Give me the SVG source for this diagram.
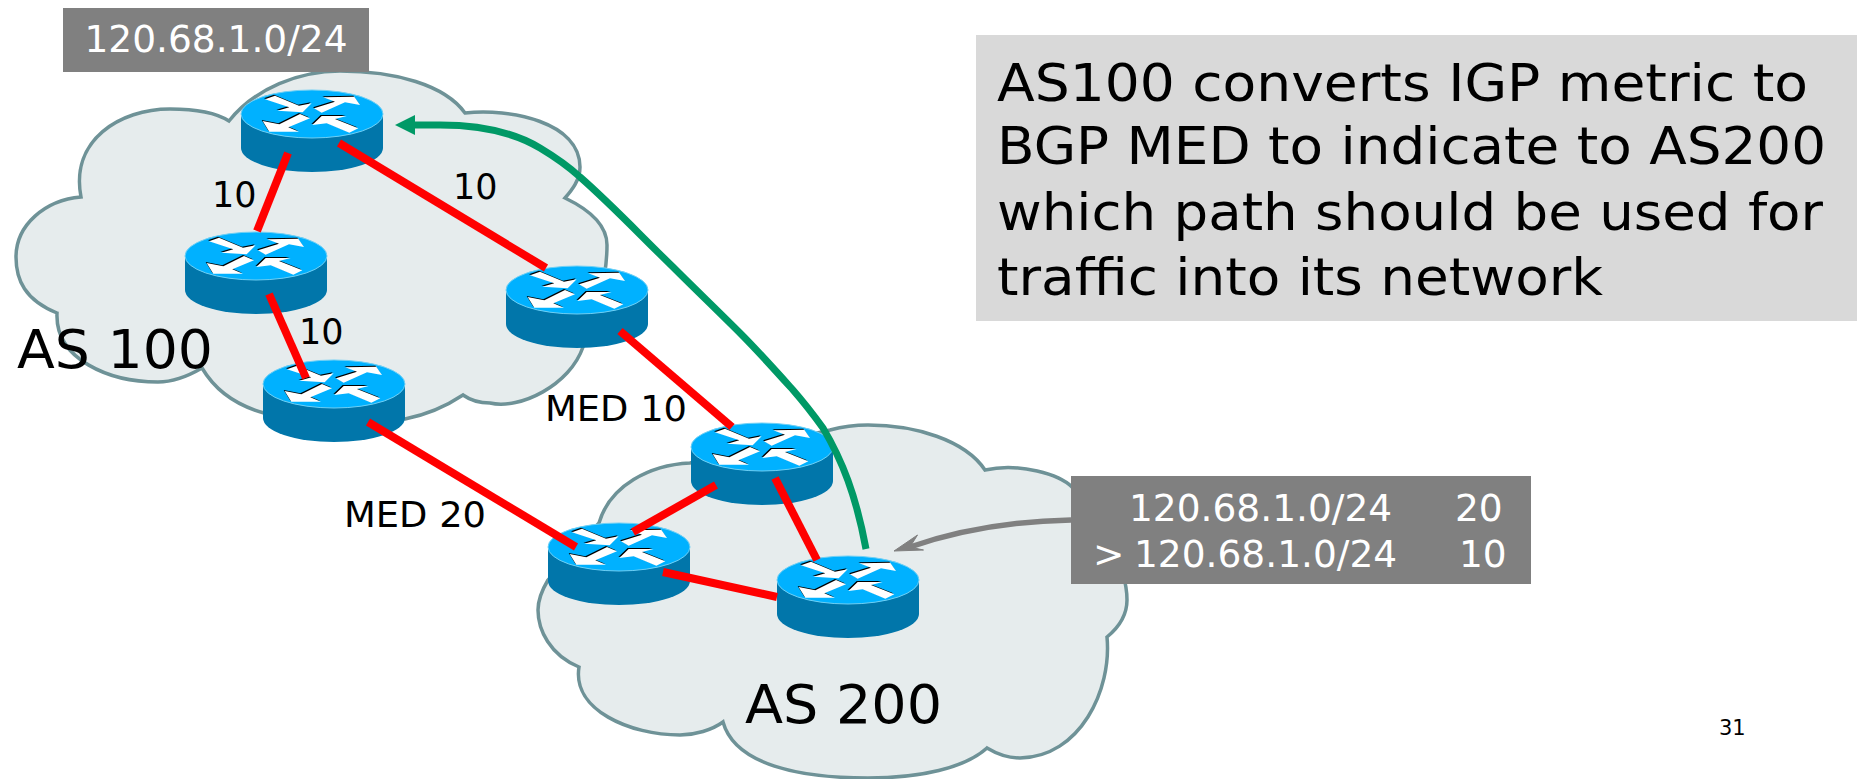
<svg xmlns="http://www.w3.org/2000/svg" width="1865" height="779" viewBox="0 0 1865 779">
<style>
.cloud{fill:#e6eced;stroke:#6e9297;stroke-width:3.5;stroke-linejoin:miter}
.link{stroke:#ff0000;stroke-width:8;fill:none}
text{font-family:"DejaVu Sans","Liberation Sans",sans-serif;fill:#000}
.w{fill:#fff}
.box{fill:#808080}
.lbl{font-size:35px}
.med{font-size:36px}
.as{font-size:54px}
.rt{font-size:37.5px}
.tb{font-size:37.5px}
.big{font-size:52px}
</style>
<defs>
<g id="router">
<path d="M0 24V58A71 24 0 0 0 142 58V24Z" fill="#0176aa"/>
<ellipse cx="71" cy="24" rx="71" ry="24" fill="#00b1ff" stroke="#6fd0f5" stroke-width="1"/>
<g transform="translate(-21,-10) scale(.3333)">
<g fill="#000" transform="translate(-3,-3)">
<polygon points="135,58 165,47 237,77 275,70 248,97 172,92 208,82"/>
<polygon points="282,85 345,65 310,52 403,50 420,75 375,67 305,98"/>
<polygon points="128,123 178,133 240,102 270,115 205,142 237,155 148,155"/>
<polygon points="277,135 305,108 380,108 345,117 415,145 388,158 320,130"/>
</g>
<g fill="#fff">
<polygon points="135,58 165,47 237,77 275,70 248,97 172,92 208,82"/>
<polygon points="282,85 345,65 310,52 403,50 420,75 375,67 305,98"/>
<polygon points="128,123 178,133 240,102 270,115 205,142 237,155 148,155"/>
<polygon points="277,135 305,108 380,108 345,117 415,145 388,158 320,130"/>
</g>
</g>
</g>
</defs>

<g id="cloud-as100">
<path class="cloud" d="M229 121C255 88 300 71 340 71C395 71 445 85 465 113C510 108 580 122 580 167C580 180 572 190 565 198C590 210 607 225 607 245C607 280 595 320 583 347C570 385 520 410 490 403C480 403 470 400 463 395C445 407 425 415 405 419L264 413C235 405 215 390 202 368C190 375 175 382 158 382C110 382 55 360 57 313C25 300 16 280 16 257C16 225 45 200 81 197C70 140 120 109 170 109C190 109 215 112 229 121Z"/>
</g>
<g id="cloud-as200">
<path class="cloud" d="M599 523C610 485 650 465 690 463L830 430C845 426 855 425 868 425C915 425 965 440 985 470C1020 462 1060 475 1072 487C1100 520 1127 565 1127 600C1127 615 1118 628 1107 637C1112 690 1080 757 1020 758C1008 758 997 754 987 748C965 768 920 778 868 778C800 778 735 765 723 722C712 730 695 735 680 735C630 735 572 710 579 667C550 655 538 630 538 610C538 600 542 590 548 580L599 523Z"/>
</g>

<g id="router-a1"><use href="#router" x="241" y="90"/></g>
<g id="router-a2"><use href="#router" x="185" y="232"/></g>
<g id="router-a3"><use href="#router" x="263" y="360"/></g>
<g id="router-a4"><use href="#router" x="506" y="266"/></g>
<g id="router-b1"><use href="#router" x="691" y="423"/></g>
<g id="router-b2"><use href="#router" x="548" y="523"/></g>
<g id="router-b3"><use href="#router" x="777" y="556"/></g>

<g id="connectors">
<line class="link" x1="288" y1="153" x2="257" y2="231"/>
<line class="link" x1="339" y1="143" x2="546" y2="268"/>
<line class="link" x1="269" y1="294" x2="306" y2="378"/>
<line class="link" x1="620" y1="331" x2="732" y2="427"/>
<line class="link" x1="368" y1="422" x2="576" y2="547"/>
<line class="link" x1="716" y1="485" x2="633" y2="532"/>
<line class="link" x1="775" y1="478" x2="817" y2="560"/>
<line class="link" x1="663" y1="572" x2="777" y2="597"/>
<path d="M866 549C856 495 842 460 823 428C810 410 800 398 793 390C775 370 758 351 740 333C718 311 695 289 673 267C640 235 612 205 580 177C568 166 555 157 540 148C515 133 480 125 440 125L412 125" fill="none" stroke="#009966" stroke-width="7"/>
<polygon points="395,125 415,115 415,135" fill="#009966"/>
<path d="M1071 520C1020 521 965 528 910 547" fill="none" stroke="#808080" stroke-width="5.5"/>
<polygon points="894,551 917.5,535 910,547 923.5,550" fill="#808080" stroke="#808080"/>
</g>

<g id="prefix-box"><rect class="box" x="63" y="8" width="306" height="64"/><text class="rt w" x="216" y="52" text-anchor="middle">120.68.1.0/24</text></g>
<g id="table-box">
<rect class="box" x="1071" y="476" width="460" height="108"/>
<text class="tb w" x="1129" y="521">120.68.1.0/24</text>
<text class="tb w" x="1455" y="521">20</text>
<text class="tb w" x="1093" y="567">&gt;</text>
<text class="tb w" x="1134" y="567">120.68.1.0/24</text>
<text class="tb w" x="1459" y="567">10</text>
</g>
<g id="note-box">
<rect x="976" y="35" width="881" height="286" fill="#d9d9d9"/>
<text class="big" x="997" y="101" textLength="811" lengthAdjust="spacingAndGlyphs">AS100 converts IGP metric to</text>
<text class="big" x="997" y="164" textLength="829" lengthAdjust="spacingAndGlyphs">BGP MED to indicate to AS200</text>
<text class="big" x="997" y="230" textLength="826" lengthAdjust="spacingAndGlyphs">which path should be used for</text>
<text class="big" x="997" y="295" textLength="606" lengthAdjust="spacingAndGlyphs">traffic into its network</text>
</g>
<text class="lbl" x="212" y="207">10</text>
<text class="lbl" x="453" y="199">10</text>
<text class="lbl" x="299" y="344">10</text>
<text class="med" x="545" y="421" textLength="142" lengthAdjust="spacingAndGlyphs">MED 10</text>
<text class="med" x="344" y="527" textLength="142" lengthAdjust="spacingAndGlyphs">MED 20</text>
<text class="as" x="17" y="368" textLength="196" lengthAdjust="spacingAndGlyphs">AS 100</text>
<text class="as" x="745" y="723" textLength="197" lengthAdjust="spacingAndGlyphs">AS 200</text>
<text x="1719" y="735" style="font-size:21px">31</text>
</svg>
